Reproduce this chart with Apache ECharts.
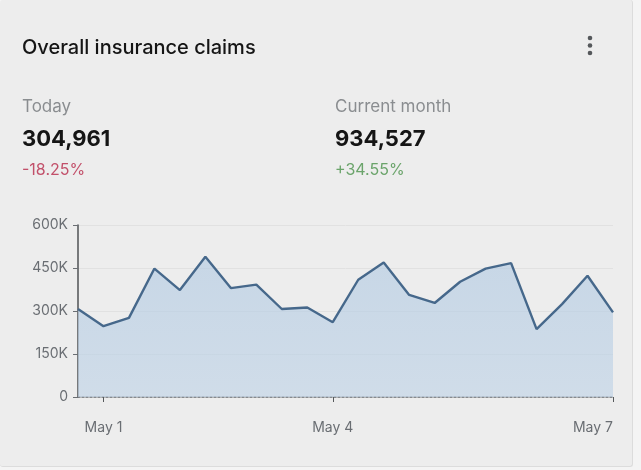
<!DOCTYPE html>
<html>
<head>
<meta charset="utf-8">
<script src="https://cdn.jsdelivr.net/npm/echarts@6/dist/echarts.min.js"></script>
<style>
  html, body { margin: 0; padding: 0; background: #f4f4f4; }
  #card {
    position: absolute; left: 0; top: 0; width: 632px; height: 466px;
    background: #ededed; border-right: 1px solid #dcdcdc; border-bottom: 1px solid #dcdcdc;
    border-radius: 3px;
  }
  #chart { width: 641px; height: 470px; position: absolute; left: 0; top: 0; }
</style>
</head>
<body>
<div id="card"></div>
<div id="chart"></div>
<script>
// Claim counts, one sample every 8 hours
const timestamps = [
  'Apr 30 16:00', 'May 1 00:00', 'May 1 08:00', 'May 1 16:00', 'May 2 00:00',
  'May 2 08:00', 'May 2 16:00', 'May 3 00:00', 'May 3 08:00', 'May 3 16:00',
  'May 4 00:00', 'May 4 08:00', 'May 4 16:00', 'May 5 00:00', 'May 5 08:00',
  'May 5 16:00', 'May 6 00:00', 'May 6 08:00', 'May 6 16:00', 'May 7 00:00',
  'May 7 08:00', 'May 7 16:00'
];
const claims = [
  307000, 247000, 276000, 448000, 373000, 489000, 380000, 392000, 307000, 312000,
  261000, 409000, 469000, 356000, 328000, 402000, 448000, 467000, 237000, 324000,
  423000, 295000
];
// Date ticks along the time axis
const xTickIndices = [1, 10, 21];
const xTickLabels = ['May 1', 'May 4', 'May 7'];
const yTicks = [0, 150000, 300000, 450000, 600000];
const yTickLabels = ['0', '150K', '300K', '450K', '600K'];

const cardTitle = 'Overall insurance claims';
const statLabels = ['Today', 'Current month'];
const statValues = ['304,961', '934,527'];
const statChanges = ['-18.25%', '+34.55%'];

const font = 'Inter, "Noto Sans", sans-serif';
const chart = echarts.init(document.getElementById('chart'), null, { renderer: 'canvas' });

const showTick = (i) => xTickIndices.indexOf(i) !== -1;

const statGraphics = [];
[22, 335].forEach((x, k) => {
  statGraphics.push(
    { type: 'text', left: x, top: 98, style: { text: statLabels[k], fill: '#8a8d90', font: '17px ' + font } },
    { type: 'text', left: x, top: 128, style: { text: statValues[k], fill: '#151515', font: 'bold 22px ' + font } },
    { type: 'text', left: x, top: 162, style: { text: statChanges[k], fill: k === 0 ? '#c2506a' : '#6ba46b', font: '16px ' + font } }
  );
});

chart.setOption({
  backgroundColor: 'transparent',
  animation: false,
  graphic: [
    { type: 'text', left: 22, top: 38, style: { text: cardTitle, fill: '#151515', font: '500 20px ' + font } },
    { type: 'circle', shape: { cx: 590, cy: 38, r: 2.3 }, style: { fill: '#55585b' } },
    { type: 'circle', shape: { cx: 590, cy: 45.5, r: 2.3 }, style: { fill: '#55585b' } },
    { type: 'circle', shape: { cx: 590, cy: 53, r: 2.3 }, style: { fill: '#55585b' } }
  ].concat(statGraphics),
  grid: { left: 78, right: 28, top: 225, bottom: 73 },
  xAxis: {
    type: 'category',
    data: timestamps,
    boundaryGap: false,
    axisLine: { show: true, lineStyle: { color: '#6a6e73', type: [2, 2], width: 1.5 } },
    axisTick: {
      show: true, length: 5, alignWithLabel: true,
      interval: (i) => showTick(i),
      lineStyle: { color: '#55585b' }
    },
    axisLabel: {
      interval: (i) => showTick(i),
      formatter: (v, i) => xTickLabels[xTickIndices.indexOf(i)],
      alignMaxLabel: 'right',
      color: '#6a6e73', fontSize: 14, fontFamily: font, margin: 24
    },
    splitLine: { show: false }
  },
  yAxis: {
    type: 'value',
    min: 0, max: 600000, interval: 150000,
    axisLine: { show: true, lineStyle: { color: '#4f5255', width: 1.5 } },
    axisTick: { show: true, length: 5, lineStyle: { color: '#6a6e73' } },
    axisLabel: {
      formatter: (v) => yTickLabels[yTicks.indexOf(v)],
      color: '#6a6e73', fontSize: 14, fontFamily: font, margin: 10
    },
    splitLine: { show: true, lineStyle: { color: '#e1e1e1', width: 1 } }
  },
  series: [{
    type: 'line',
    data: claims,
    symbol: 'none',
    lineStyle: { color: '#46688b', width: 2.4 },
    areaStyle: {
      color: new echarts.graphic.LinearGradient(0, 0, 0, 1, [
        { offset: 0, color: '#b6cce2' },
        { offset: 1, color: '#c2d4e6' }
      ])
    }
  }]
});
</script>
</body>
</html>
